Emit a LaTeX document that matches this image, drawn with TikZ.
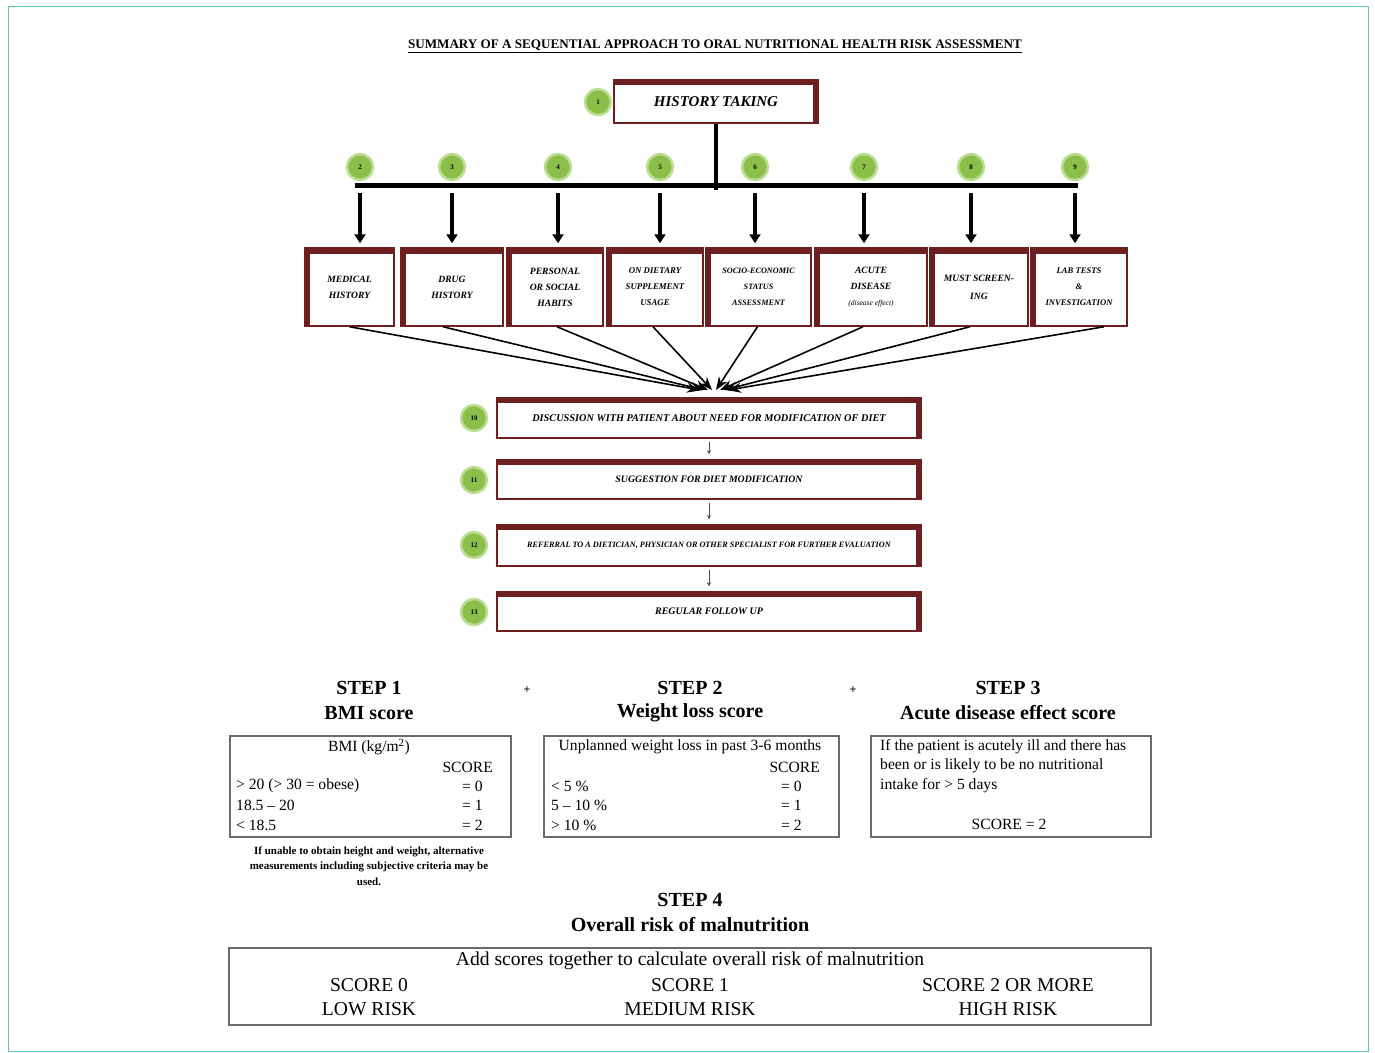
\documentclass[tikz,border=0pt]{standalone}
\usepackage{fontspec}
\setmainfont{Liberation Serif}
\usetikzlibrary{arrows.meta,calc}
\definecolor{maroon}{HTML}{6E1F1F}
\definecolor{frameteal}{HTML}{5BC8BD}
\definecolor{gdark}{HTML}{8CBF4A}
\definecolor{glight}{HTML}{BCDD94}
\definecolor{tblgray}{HTML}{6A6A6A}
\newcommand\fsz[2]{\fontsize{#1}{#2}\selectfont}
\tikzset{
  frameL/.style={draw=maroon, line width=1.5, fill=white, inner sep=0, align=center,
    font=\fsz{9.6}{16}\bfseries\itshape,
    path picture={\fill[maroon] (path picture bounding box.north west) rectangle ([yshift=-6pt]path picture bounding box.north east);
      \fill[maroon] (path picture bounding box.north west) rectangle ([xshift=5pt]path picture bounding box.south west);}},
  frameR/.style={draw=maroon, line width=1.5, fill=white, inner sep=0, align=center,
    path picture={\fill[maroon] (path picture bounding box.north west) rectangle ([yshift=-5pt]path picture bounding box.north east);
      \fill[maroon] ([xshift=-5pt]path picture bounding box.north east) rectangle (path picture bounding box.south east);}},
  gnum/.style={circle, minimum size=26, inner sep=0, fill=gdark, draw=glight, line width=2.5, font=\fsz{7}{8}\bfseries},
  bigarrow/.style={line width=3.5, -{Triangle[length=9,width=11]}, shorten <=8, shorten >=4},
  convarrow/.style={line width=1.6, -{Stealth[length=13,width=10]}},
  smallarrow/.style={line width=1, draw=black!70, -{Stealth[length=4,width=4]}, shorten <=3, shorten >=5},
  tbl/.style={draw=tblgray, line width=1.8, inner sep=0, anchor=north west},
  tx/.style={inner sep=0, font=\fsz{15.6}{17}},
  big/.style={inner sep=0, font=\fsz{19.6}{21}},
  head/.style={inner sep=0, font=\fsz{20}{22}\bfseries},
}
\begin{document}
\begin{tikzpicture}[x=1pt,y=-1pt]
\useasboundingbox (0,0) rectangle (1375,1052);
\draw[frameteal, line width=1] (8,6) rectangle (1368,1051);

% title
\node[inner sep=0, font=\fsz{13.1}{15}\bfseries] (title) at (715,46)
  {\underline{SUMMARY OF A SEQUENTIAL APPROACH TO ORAL NUTRITIONAL HEALTH RISK ASSESSMENT}};

% history taking
\node[frameR, minimum width=204, minimum height=43, font=\fsz{15}{17}\bfseries\itshape] (h) at (716,101.5) {HISTORY TAKING};
\node[gnum] (c1) at (598,102) {1};

\coordinate (barL) at (355,185);
\coordinate (barR) at (1078,185);
\coordinate (vend) at (716,190);
\draw[line width=4] (h.south) -- (vend);
\draw[line width=5] (barL) -- (barR);

% circles 2-9
\foreach \i/\x in {2/360,3/452,4/558,5/660,6/755,7/864,8/971,9/1075}
  \node[gnum] (c\i) at (\x,167) {\i};

% eight boxes
\node[frameL, minimum width=89, minimum height=78] (b2) at (349.5,287) {MEDICAL\\HISTORY};
\node[frameL, minimum width=102, minimum height=78] (b3) at (452,287) {DRUG\\HISTORY};
\node[frameL, minimum width=96, minimum height=78] (b4) at (555,287) {PERSONAL\\OR SOCIAL\\HABITS};
\node[frameL, minimum width=96, minimum height=78, font=\fsz{8.8}{16}\bfseries\itshape] (b5) at (655,287) {ON DIETARY\\SUPPLEMENT\\USAGE};
\node[frameL, minimum width=105, minimum height=78, font=\fsz{8.2}{16}\bfseries\itshape] (b6) at (758.5,287) {SOCIO-ECONOMIC\\STATUS\\ASSESSMENT};
\node[frameL, minimum width=112, minimum height=78] (b7) at (871,287) {ACUTE\\DISEASE\\{\fsz{7.5}{16}\mdseries (disease effect)}};
\node[frameL, minimum width=98, minimum height=78, font=\fsz{9.6}{18}\bfseries\itshape] (b8) at (979,287) {MUST SCREEN-\\ING};
\node[frameL, minimum width=96, minimum height=78, font=\fsz{8.6}{16}\bfseries\itshape] (b9) at (1079,287) {LAB TESTS\\\&\\INVESTIGATION};

\foreach \i in {2,...,9}
  \draw[bigarrow] (c\i |- barL) -- (c\i |- b\i.north);

% lower boxes
\node[frameR, minimum width=424, minimum height=40, font=\fsz{10.3}{12}\bfseries\itshape] (b10) at (709,418)
  {DISCUSSION WITH PATIENT ABOUT NEED FOR MODIFICATION OF DIET};
\node[frameR, minimum width=424, minimum height=39, font=\fsz{9.8}{12}\bfseries\itshape] (b11) at (709,479.5)
  {SUGGESTION FOR DIET MODIFICATION};
\node[frameR, minimum width=424, minimum height=41, font=\fsz{8.2}{10}\bfseries\itshape] (b12) at (709,545.5)
  {REFERRAL TO A DIETICIAN, PHYSICIAN OR OTHER SPECIALIST FOR FURTHER EVALUATION};
\node[frameR, minimum width=424, minimum height=39, font=\fsz{10}{12}\bfseries\itshape] (b13) at (709,611.5)
  {REGULAR FOLLOW UP};
\node[gnum] (c10) at (474,418) {10};
\node[gnum] (c11) at (474,480) {11};
\node[gnum] (c12) at (474,545) {12};
\node[gnum] (c13) at (474,612) {13};

% converging arrows
\foreach \i/\sx/\ex in {2/0/700,3/-9/704,4/2/708,5/-2/712,6/-1/716,7/-8/720,8/-9/724,9/25/728}
  \draw[convarrow] ([xshift=\sx pt]b\i.south) -- (\ex,390);

\draw[smallarrow] (b10.south) -- (b11.north);
\draw[smallarrow] (b11.south) -- (b12.north);
\draw[smallarrow] (b12.south) -- (b13.north);

% ---- steps ----
\node[head] (st1) at (369,688) {STEP 1};
\node[head] (st1b) at (369,713) {BMI score};
\node[head] (st2) at (690,688) {STEP 2};
\node[head] (st2b) at (690,713) {Weight loss score};
\node[head] (st3) at (1008,688) {STEP 3};
\node[head] (st3b) at (1008,713) {Acute disease effect score};
\node[inner sep=0, font=\fsz{12}{14}\bfseries] (plus1) at (527,690) {+};
\node[inner sep=0, font=\fsz{12}{14}\bfseries] (plus2) at (853,690) {+};

% step 1 table
\node[tbl, minimum width=281, minimum height=101] (s1box) at (229,735) {};
\node[tx] (s1h) at (369,747) {BMI (kg/m\textsuperscript{2})};
\node[tx, anchor=east] (s1sc) at (493,767) {SCORE};
\node[tx, anchor=west] (s1r1) at (236,786) {> 20 (> 30 = obese)};
\node[tx, anchor=west] (s1r2) at (236,805) {18.5 – 20};
\node[tx, anchor=west] (s1r3) at (236,825) {< 18.5};
\node[tx, anchor=west] (s1v1) at (462,786) {= 0};
\node[tx, anchor=west] (s1v2) at (462,805) {= 1};
\node[tx, anchor=west] (s1v3) at (462,825) {= 2};
\node[inner sep=0, align=center, font=\fsz{11}{15.5}\bfseries] (s1note) at (369,866)
  {If unable to obtain height and weight, alternative\\measurements including subjective criteria may be\\used.};

% step 2 table
\node[tbl, minimum width=295, minimum height=101] (s2box) at (543,735) {};
\node[tx] (s2h) at (690,747) {Unplanned weight loss in past 3-6 months};
\node[tx, anchor=east] (s2sc) at (820,767) {SCORE};
\node[tx, anchor=west] (s2r1) at (551,786) {< 5 \%};
\node[tx, anchor=west] (s2r2) at (551,805) {5 – 10 \%};
\node[tx, anchor=west] (s2r3) at (551,825) {> 10 \%};
\node[tx, anchor=west] (s2v1) at (781,786) {= 0};
\node[tx, anchor=west] (s2v2) at (781,805) {= 1};
\node[tx, anchor=west] (s2v3) at (781,825) {= 2};

% step 3 table
\node[tbl, minimum width=280, minimum height=101] (s3box) at (870,735) {};
\node[tx, anchor=north west, align=left, font=\fsz{15.6}{19.5}] (s3t) at (880,739)
  {If the patient is acutely ill and there has\\been or is likely to be no nutritional\\intake for > 5 days};
\node[tx] (s3sc) at (1009,824) {SCORE = 2};

% step 4
\node[head] (st4) at (690,900) {STEP 4};
\node[head] (st4b) at (690,925) {Overall risk of malnutrition};
\node[tbl, minimum width=922, minimum height=77] (s4box) at (228,947) {};
\node[big] (s4h) at (690,961) {Add scores together to calculate overall risk of malnutrition};
\node[big] (s4a1) at (369,985) {SCORE 0};
\node[big] (s4a2) at (369,1009) {LOW RISK};
\node[big] (s4b1) at (690,985) {SCORE 1};
\node[big] (s4b2) at (690,1009) {MEDIUM RISK};
\node[big] (s4c1) at (1008,985) {SCORE 2 OR MORE};
\node[big] (s4c2) at (1008,1009) {HIGH RISK};
\end{tikzpicture}
\end{document}
